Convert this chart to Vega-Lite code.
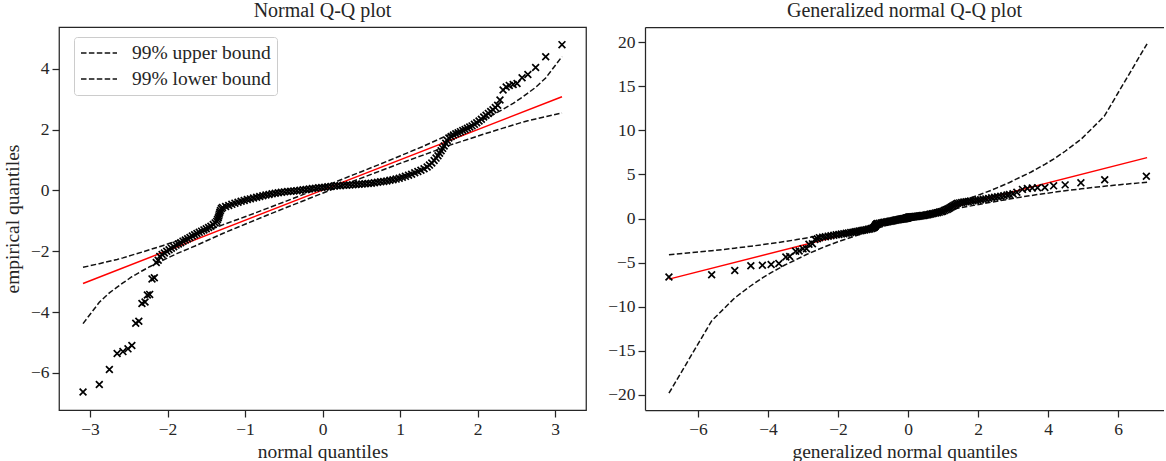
{
  "$schema": "https://vega.github.io/schema/vega-lite/v6.json",
  "padding": {"left": 1, "top": 0, "right": 0, "bottom": 0},
  "autosize": {"type": "pad"},
  "spacing": 20,
  "config": {
    "font": "Liberation Serif",
    "view": {"stroke": "#262626", "strokeWidth": 1.25},
    "axis": {
      "grid": false, "domain": false, "domainColor": "#262626", "domainWidth": 1.25, "tickColor": "#262626", "tickWidth": 1.25, "tickSize": 7,
      "labelFont": "Liberation Serif", "labelFontSize": 17.5, "labelColor": "#262626", "labelPadding": 3,
      "labelFlush": false, "labelOverlap": false, "format": "~g",
      "titleFont": "Liberation Serif", "titleFontSize": 19.5, "titleFontWeight": "normal", "titleColor": "#262626"
    },
    "axisX": {"titlePadding": 5},
    "axisY": {"titlePadding": 8},
    "title": {"font": "Liberation Serif", "fontSize": 20, "fontWeight": "normal", "color": "#262626", "offset": 6, "anchor": "middle"},
    "legend": {
      "symbolType": "M-1,0L3,0", "symbolStrokeWidth": 1.5, "symbolDash": [5.5, 2.4], "symbolSize": 324,
      "labelFont": "Liberation Serif", "labelFontSize": 19.5, "labelColor": "#262626", "labelOffset": 32,
      "fillColor": "white", "strokeColor": "#cccccc", "cornerRadius": 3, "padding": 6, "rowPadding": 6
    }
  },
  "datasets": {
    "pts": [
      {"xn": -3.09, "xg": -6.83, "y": -6.63}, {"xn": -2.88, "xg": -5.61, "y": -6.38}, {"xn": -2.75, "xg": -4.95, "y": -5.89},
      {"xn": -2.65, "xg": -4.49, "y": -5.36}, {"xn": -2.575, "xg": -4.16, "y": -5.30}, {"xn": -2.51, "xg": -3.91, "y": -5.21},
      {"xn": -2.46, "xg": -3.69, "y": -5.10}, {"xn": -2.41, "xg": -3.49, "y": -4.37}, {"xn": -2.37, "xg": -3.38, "y": -4.30},
      {"xn": -2.33, "xg": -3.21, "y": -3.72}, {"xn": -2.29, "xg": -3.11, "y": -3.67}, {"xn": -2.26, "xg": -3.00, "y": -3.44},
      {"xn": -2.23, "xg": -2.90, "y": -3.42}, {"xn": -2.20, "xg": -2.83, "y": -2.91}, {"xn": -2.17, "xg": -2.73, "y": -2.87},
      {"xn": -2.145, "xg": -2.66, "y": -2.37}, {"xn": -2.12, "xg": -2.59, "y": -2.30},
      {"xn": -2.10, "xg": -2.53, "y": -2.17}, {"xn": -2.07, "xg": -2.44, "y": -2.11}, {"xn": -2.04, "xg": -2.36, "y": -2.06},
      {"xn": -2.01, "xg": -2.28, "y": -2.00}, {"xn": -1.98, "xg": -2.20, "y": -1.95}, {"xn": -1.95, "xg": -2.12, "y": -1.90},
      {"xn": -1.92, "xg": -2.05, "y": -1.85}, {"xn": -1.89, "xg": -1.975, "y": -1.80}, {"xn": -1.86, "xg": -1.905, "y": -1.76},
      {"xn": -1.83, "xg": -1.835, "y": -1.72}, {"xn": -1.80, "xg": -1.764, "y": -1.67}, {"xn": -1.77, "xg": -1.70, "y": -1.63},
      {"xn": -1.74, "xg": -1.637, "y": -1.59}, {"xn": -1.71, "xg": -1.574, "y": -1.55}, {"xn": -1.68, "xg": -1.514, "y": -1.50},
      {"xn": -1.65, "xg": -1.457, "y": -1.46}, {"xn": -1.62, "xg": -1.399, "y": -1.42}, {"xn": -1.59, "xg": -1.342, "y": -1.38},
      {"xn": -1.56, "xg": -1.289, "y": -1.34}, {"xn": -1.53, "xg": -1.235, "y": -1.30}, {"xn": -1.50, "xg": -1.182, "y": -1.26},
      {"xn": -1.47, "xg": -1.134, "y": -1.22}, {"xn": -1.44, "xg": -1.087, "y": -1.18}, {"xn": -1.41, "xg": -1.039, "y": -1.12},
      {"xn": -1.385, "xg": -1.001, "y": -1.07}, {"xn": -1.365, "xg": -0.973, "y": -1.02}, {"xn": -1.355, "xg": -0.958, "y": -0.96},
      {"xn": -1.345, "xg": -0.944, "y": -0.90}, {"xn": -1.338, "xg": -0.934, "y": -0.84}, {"xn": -1.332, "xg": -0.926, "y": -0.78},
      {"xn": -1.325, "xg": -0.916, "y": -0.72}, {"xn": -1.317, "xg": -0.904, "y": -0.66}, {"xn": -1.305, "xg": -0.886, "y": -0.60},
      {"xn": -1.29, "xg": -0.866, "y": -0.56}, {"xn": -1.25, "xg": -0.815, "y": -0.53}, {"xn": -1.21, "xg": -0.763, "y": -0.50},
      {"xn": -1.17, "xg": -0.716, "y": -0.46}, {"xn": -1.13, "xg": -0.67, "y": -0.42}, {"xn": -1.09, "xg": -0.625, "y": -0.39},
      {"xn": -1.05, "xg": -0.583, "y": -0.36}, {"xn": -1.01, "xg": -0.541, "y": -0.33}, {"xn": -0.97, "xg": -0.504, "y": -0.30},
      {"xn": -0.93, "xg": -0.467, "y": -0.28}, {"xn": -0.89, "xg": -0.432, "y": -0.25}, {"xn": -0.85, "xg": -0.399, "y": -0.225},
      {"xn": -0.81, "xg": -0.365, "y": -0.20}, {"xn": -0.77, "xg": -0.336, "y": -0.175}, {"xn": -0.73, "xg": -0.307, "y": -0.155},
      {"xn": -0.69, "xg": -0.28, "y": -0.135}, {"xn": -0.65, "xg": -0.255, "y": -0.115}, {"xn": -0.61, "xg": -0.229, "y": -0.095},
      {"xn": -0.57, "xg": -0.207, "y": -0.08}, {"xn": -0.53, "xg": -0.185, "y": -0.065}, {"xn": -0.49, "xg": -0.163, "y": -0.05},
      {"xn": -0.45, "xg": -0.145, "y": -0.04}, {"xn": -0.41, "xg": -0.126, "y": -0.03}, {"xn": -0.37, "xg": -0.109, "y": -0.02},
      {"xn": -0.33, "xg": -0.093, "y": -0.01}, {"xn": -0.29, "xg": -0.078, "y": 0.005}, {"xn": -0.25, "xg": -0.064, "y": 0.02},
      {"xn": -0.21, "xg": -0.05, "y": 0.03}, {"xn": -0.17, "xg": -0.039, "y": 0.045}, {"xn": -0.13, "xg": -0.029, "y": 0.06},
      {"xn": -0.09, "xg": -0.019, "y": 0.07}, {"xn": -0.05, "xg": -0.011, "y": 0.085}, {"xn": -0.01, "xg": -0.002, "y": 0.095},
      {"xn": 0.03, "xg": 0.006, "y": 0.105}, {"xn": 0.07, "xg": 0.015, "y": 0.12}, {"xn": 0.11, "xg": 0.024, "y": 0.13},
      {"xn": 0.15, "xg": 0.034, "y": 0.14}, {"xn": 0.19, "xg": 0.044, "y": 0.15}, {"xn": 0.23, "xg": 0.057, "y": 0.155},
      {"xn": 0.27, "xg": 0.071, "y": 0.165}, {"xn": 0.31, "xg": 0.085, "y": 0.17}, {"xn": 0.35, "xg": 0.101, "y": 0.18},
      {"xn": 0.39, "xg": 0.117, "y": 0.185}, {"xn": 0.43, "xg": 0.135, "y": 0.19}, {"xn": 0.47, "xg": 0.154, "y": 0.20},
      {"xn": 0.51, "xg": 0.174, "y": 0.21}, {"xn": 0.55, "xg": 0.196, "y": 0.215}, {"xn": 0.59, "xg": 0.218, "y": 0.225},
      {"xn": 0.63, "xg": 0.242, "y": 0.235}, {"xn": 0.67, "xg": 0.267, "y": 0.25}, {"xn": 0.71, "xg": 0.293, "y": 0.265},
      {"xn": 0.75, "xg": 0.322, "y": 0.28}, {"xn": 0.79, "xg": 0.35, "y": 0.295}, {"xn": 0.83, "xg": 0.382, "y": 0.31},
      {"xn": 0.87, "xg": 0.415, "y": 0.33}, {"xn": 0.91, "xg": 0.449, "y": 0.35}, {"xn": 0.95, "xg": 0.486, "y": 0.37},
      {"xn": 0.99, "xg": 0.522, "y": 0.40}, {"xn": 1.03, "xg": 0.562, "y": 0.43}, {"xn": 1.07, "xg": 0.604, "y": 0.46},
      {"xn": 1.11, "xg": 0.647, "y": 0.50}, {"xn": 1.15, "xg": 0.693, "y": 0.53}, {"xn": 1.19, "xg": 0.739, "y": 0.58},
      {"xn": 1.23, "xg": 0.789, "y": 0.62}, {"xn": 1.27, "xg": 0.84, "y": 0.66}, {"xn": 1.31, "xg": 0.893, "y": 0.71},
      {"xn": 1.35, "xg": 0.951, "y": 0.77}, {"xn": 1.38, "xg": 0.994, "y": 0.83}, {"xn": 1.41, "xg": 1.039, "y": 0.90},
      {"xn": 1.44, "xg": 1.087, "y": 0.98}, {"xn": 1.465, "xg": 1.126, "y": 1.06}, {"xn": 1.49, "xg": 1.166, "y": 1.14},
      {"xn": 1.51, "xg": 1.20, "y": 1.22}, {"xn": 1.53, "xg": 1.235, "y": 1.30}, {"xn": 1.55, "xg": 1.271, "y": 1.38},
      {"xn": 1.57, "xg": 1.307, "y": 1.46}, {"xn": 1.59, "xg": 1.342, "y": 1.55}, {"xn": 1.61, "xg": 1.379, "y": 1.64},
      {"xn": 1.63, "xg": 1.418, "y": 1.72}, {"xn": 1.66, "xg": 1.476, "y": 1.77}, {"xn": 1.69, "xg": 1.534, "y": 1.82},
      {"xn": 1.72, "xg": 1.595, "y": 1.86}, {"xn": 1.75, "xg": 1.658, "y": 1.89}, {"xn": 1.78, "xg": 1.722, "y": 1.93},
      {"xn": 1.81, "xg": 1.788, "y": 1.97}, {"xn": 1.84, "xg": 1.858, "y": 2.00}, {"xn": 1.87, "xg": 1.928, "y": 2.04},
      {"xn": 1.90, "xg": 1.999, "y": 2.08}, {"xn": 1.93, "xg": 2.074, "y": 2.12}, {"xn": 1.96, "xg": 2.15, "y": 2.17},
      {"xn": 1.99, "xg": 2.225, "y": 2.22}, {"xn": 2.02, "xg": 2.306, "y": 2.28}, {"xn": 2.05, "xg": 2.39, "y": 2.34},
      {"xn": 2.08, "xg": 2.474, "y": 2.41}, {"xn": 2.11, "xg": 2.56, "y": 2.47}, {"xn": 2.14, "xg": 2.65, "y": 2.53},
      {"xn": 2.17, "xg": 2.74, "y": 2.59}, {"xn": 2.20, "xg": 2.83, "y": 2.65}, {"xn": 2.23, "xg": 2.90, "y": 2.72},
      {"xn": 2.26, "xg": 3.00, "y": 2.80},
      {"xn": 2.29, "xg": 3.11, "y": 2.97}, {"xn": 2.33, "xg": 3.27, "y": 3.30}, {"xn": 2.37, "xg": 3.41, "y": 3.40},
      {"xn": 2.41, "xg": 3.55, "y": 3.45}, {"xn": 2.46, "xg": 3.70, "y": 3.48}, {"xn": 2.51, "xg": 3.91, "y": 3.51},
      {"xn": 2.575, "xg": 4.16, "y": 3.70}, {"xn": 2.65, "xg": 4.49, "y": 3.81}, {"xn": 2.75, "xg": 4.94, "y": 4.04},
      {"xn": 2.88, "xg": 5.62, "y": 4.39}, {"xn": 3.09, "xg": 6.81, "y": 4.79}
    ],
    "bn": [
      {"x": -3.09, "y": -2.53, "bound": "99% upper bound"}, {"x": -2.88, "y": -2.41, "bound": "99% upper bound"},
      {"x": -2.75, "y": -2.33, "bound": "99% upper bound"}, {"x": -2.65, "y": -2.27, "bound": "99% upper bound"},
      {"x": -2.575, "y": -2.22, "bound": "99% upper bound"}, {"x": -2.51, "y": -2.17, "bound": "99% upper bound"},
      {"x": -2.46, "y": -2.13, "bound": "99% upper bound"}, {"x": -2.41, "y": -2.09, "bound": "99% upper bound"},
      {"x": -2.33, "y": -2.03, "bound": "99% upper bound"}, {"x": -2.23, "y": -1.95, "bound": "99% upper bound"},
      {"x": -2.054, "y": -1.81, "bound": "99% upper bound"}, {"x": -1.88, "y": -1.665, "bound": "99% upper bound"},
      {"x": -1.645, "y": -1.47, "bound": "99% upper bound"}, {"x": -1.28, "y": -1.125, "bound": "99% upper bound"},
      {"x": -1.0, "y": -0.87, "bound": "99% upper bound"}, {"x": -0.74, "y": -0.618, "bound": "99% upper bound"},
      {"x": -0.5, "y": -0.385, "bound": "99% upper bound"}, {"x": 0, "y": 0.109, "bound": "99% upper bound"},
      {"x": 0.5, "y": 0.614, "bound": "99% upper bound"}, {"x": 0.74, "y": 0.859, "bound": "99% upper bound"},
      {"x": 1.0, "y": 1.131, "bound": "99% upper bound"}, {"x": 1.28, "y": 1.426, "bound": "99% upper bound"},
      {"x": 1.645, "y": 1.846, "bound": "99% upper bound"}, {"x": 1.88, "y": 2.096, "bound": "99% upper bound"},
      {"x": 2.054, "y": 2.306, "bound": "99% upper bound"}, {"x": 2.23, "y": 2.526, "bound": "99% upper bound"},
      {"x": 2.33, "y": 2.666, "bound": "99% upper bound"}, {"x": 2.41, "y": 2.786, "bound": "99% upper bound"},
      {"x": 2.46, "y": 2.856, "bound": "99% upper bound"}, {"x": 2.51, "y": 2.946, "bound": "99% upper bound"},
      {"x": 2.575, "y": 3.056, "bound": "99% upper bound"}, {"x": 2.65, "y": 3.196, "bound": "99% upper bound"},
      {"x": 2.75, "y": 3.386, "bound": "99% upper bound"}, {"x": 2.88, "y": 3.696, "bound": "99% upper bound"},
      {"x": 3.09, "y": 4.396, "bound": "99% upper bound"},
      {"x": -3.09, "y": -4.38, "bound": "99% lower bound"}, {"x": -2.88, "y": -3.68, "bound": "99% lower bound"},
      {"x": -2.75, "y": -3.37, "bound": "99% lower bound"}, {"x": -2.65, "y": -3.18, "bound": "99% lower bound"},
      {"x": -2.575, "y": -3.04, "bound": "99% lower bound"}, {"x": -2.51, "y": -2.93, "bound": "99% lower bound"},
      {"x": -2.46, "y": -2.84, "bound": "99% lower bound"}, {"x": -2.41, "y": -2.77, "bound": "99% lower bound"},
      {"x": -2.33, "y": -2.65, "bound": "99% lower bound"}, {"x": -2.23, "y": -2.51, "bound": "99% lower bound"},
      {"x": -2.054, "y": -2.29, "bound": "99% lower bound"}, {"x": -1.88, "y": -2.08, "bound": "99% lower bound"},
      {"x": -1.645, "y": -1.83, "bound": "99% lower bound"}, {"x": -1.28, "y": -1.41, "bound": "99% lower bound"},
      {"x": -1.0, "y": -1.115, "bound": "99% lower bound"}, {"x": -0.74, "y": -0.843, "bound": "99% lower bound"},
      {"x": -0.5, "y": -0.598, "bound": "99% lower bound"}, {"x": 0, "y": -0.093, "bound": "99% lower bound"},
      {"x": 0.5, "y": 0.401, "bound": "99% lower bound"}, {"x": 0.74, "y": 0.634, "bound": "99% lower bound"},
      {"x": 1.0, "y": 0.886, "bound": "99% lower bound"}, {"x": 1.28, "y": 1.141, "bound": "99% lower bound"},
      {"x": 1.645, "y": 1.486, "bound": "99% lower bound"}, {"x": 1.88, "y": 1.681, "bound": "99% lower bound"},
      {"x": 2.054, "y": 1.826, "bound": "99% lower bound"}, {"x": 2.23, "y": 1.966, "bound": "99% lower bound"},
      {"x": 2.33, "y": 2.046, "bound": "99% lower bound"}, {"x": 2.41, "y": 2.106, "bound": "99% lower bound"},
      {"x": 2.46, "y": 2.146, "bound": "99% lower bound"}, {"x": 2.51, "y": 2.186, "bound": "99% lower bound"},
      {"x": 2.575, "y": 2.236, "bound": "99% lower bound"}, {"x": 2.65, "y": 2.286, "bound": "99% lower bound"},
      {"x": 2.75, "y": 2.346, "bound": "99% lower bound"}, {"x": 2.88, "y": 2.426, "bound": "99% lower bound"},
      {"x": 3.09, "y": 2.546, "bound": "99% lower bound"}
    ],
    "bg": [
      {"x": -6.83, "y": -4.12, "bound": "upper"}, {"x": -5.61, "y": -3.66, "bound": "upper"}, {"x": -4.95, "y": -3.36, "bound": "upper"},
      {"x": -4.49, "y": -3.14, "bound": "upper"}, {"x": -4.16, "y": -2.97, "bound": "upper"}, {"x": -3.91, "y": -2.83, "bound": "upper"},
      {"x": -3.69, "y": -2.71, "bound": "upper"}, {"x": -3.52, "y": -2.60, "bound": "upper"}, {"x": -3.21, "y": -2.42, "bound": "upper"},
      {"x": -2.90, "y": -2.20, "bound": "upper"}, {"x": -2.40, "y": -1.86, "bound": "upper"}, {"x": -1.95, "y": -1.54, "bound": "upper"},
      {"x": -1.45, "y": -1.18, "bound": "upper"}, {"x": -0.85, "y": -0.685, "bound": "upper"}, {"x": -0.531, "y": -0.43, "bound": "upper"},
      {"x": -0.31, "y": -0.243, "bound": "upper"}, {"x": -0.168, "y": -0.12, "bound": "upper"}, {"x": 0, "y": 0.021, "bound": "upper"},
      {"x": 0.168, "y": 0.231, "bound": "upper"}, {"x": 0.31, "y": 0.406, "bound": "upper"}, {"x": 0.531, "y": 0.677, "bound": "upper"},
      {"x": 0.85, "y": 1.07, "bound": "upper"}, {"x": 1.45, "y": 1.90, "bound": "upper"}, {"x": 1.95, "y": 2.56, "bound": "upper"},
      {"x": 2.40, "y": 3.23, "bound": "upper"}, {"x": 2.90, "y": 4.08, "bound": "upper"}, {"x": 3.21, "y": 4.69, "bound": "upper"},
      {"x": 3.52, "y": 5.27, "bound": "upper"}, {"x": 3.69, "y": 5.66, "bound": "upper"}, {"x": 3.91, "y": 6.13, "bound": "upper"},
      {"x": 4.16, "y": 6.74, "bound": "upper"}, {"x": 4.49, "y": 7.62, "bound": "upper"}, {"x": 4.95, "y": 9.0, "bound": "upper"},
      {"x": 5.61, "y": 11.6, "bound": "upper"}, {"x": 6.83, "y": 19.8, "bound": "upper"},
      {"x": -6.83, "y": -19.8, "bound": "lower"}, {"x": -5.61, "y": -11.6, "bound": "lower"}, {"x": -4.95, "y": -9.0, "bound": "lower"},
      {"x": -4.49, "y": -7.62, "bound": "lower"}, {"x": -4.16, "y": -6.74, "bound": "lower"}, {"x": -3.91, "y": -6.13, "bound": "lower"},
      {"x": -3.69, "y": -5.66, "bound": "lower"}, {"x": -3.52, "y": -5.27, "bound": "lower"}, {"x": -3.21, "y": -4.69, "bound": "lower"},
      {"x": -2.90, "y": -4.08, "bound": "lower"}, {"x": -2.40, "y": -3.23, "bound": "lower"}, {"x": -1.95, "y": -2.56, "bound": "lower"},
      {"x": -1.45, "y": -1.90, "bound": "lower"}, {"x": -0.85, "y": -1.07, "bound": "lower"}, {"x": -0.531, "y": -0.677, "bound": "lower"},
      {"x": -0.31, "y": -0.406, "bound": "lower"}, {"x": -0.168, "y": -0.231, "bound": "lower"}, {"x": 0, "y": -0.021, "bound": "lower"},
      {"x": 0.168, "y": 0.12, "bound": "lower"}, {"x": 0.31, "y": 0.243, "bound": "lower"}, {"x": 0.531, "y": 0.43, "bound": "lower"},
      {"x": 0.85, "y": 0.685, "bound": "lower"}, {"x": 1.45, "y": 1.18, "bound": "lower"}, {"x": 1.95, "y": 1.54, "bound": "lower"},
      {"x": 2.40, "y": 1.86, "bound": "lower"}, {"x": 2.90, "y": 2.20, "bound": "lower"}, {"x": 3.21, "y": 2.42, "bound": "lower"},
      {"x": 3.52, "y": 2.60, "bound": "lower"}, {"x": 3.69, "y": 2.71, "bound": "lower"}, {"x": 3.91, "y": 2.83, "bound": "lower"},
      {"x": 4.16, "y": 2.97, "bound": "lower"}, {"x": 4.49, "y": 3.14, "bound": "lower"}, {"x": 4.95, "y": 3.36, "bound": "lower"},
      {"x": 5.61, "y": 3.66, "bound": "lower"}, {"x": 6.83, "y": 4.12, "bound": "lower"}
    ],
    "ln": [{"x": -3.09, "y": -3.06}, {"x": 3.09, "y": 3.077}],
    "lg": [{"x": -6.83, "y": -6.87}, {"x": 6.83, "y": 6.90}]
  },
  "hconcat": [
    {
      "width": 527, "height": 383,
      "title": "Normal Q-Q plot",
      "layer": [
        {
          "data": {"name": "ln"},
          "mark": {"type": "line", "color": "#ff0000", "strokeWidth": 1.5},
          "encoding": {
            "x": {"field": "x", "type": "quantitative", "scale": {"domain": [-3.4, 3.4], "nice": false, "zero": false}, "axis": {"values": [-3, -2, -1, 0, 1, 2, 3], "title": "normal quantiles"}},
            "y": {"field": "y", "type": "quantitative", "scale": {"domain": [-7.22, 5.37], "nice": false, "zero": false}, "axis": {"values": [-6, -4, -2, 0, 2, 4], "title": "empirical quantiles"}}
          }
        },
        {
          "data": {"name": "bn"},
          "mark": {"type": "line", "strokeWidth": 1.5, "strokeDash": [5.5, 2.4]},
          "encoding": {
            "x": {"field": "x", "type": "quantitative", "title": "normal quantiles"},
            "y": {"field": "y", "type": "quantitative", "title": "empirical quantiles"},
            "color": {
              "field": "bound", "type": "nominal",
              "scale": {"domain": ["99% upper bound", "99% lower bound"], "range": ["#111111", "#111111"]},
              "legend": {"title": null, "orient": "none", "legendX": 15, "legendY": 10}
            }
          }
        },
        {
          "data": {"name": "pts"},
          "mark": {"type": "point", "shape": "M-1,-1L1,1M-1,1L1,-1", "filled": false, "color": "#000000", "strokeWidth": 1.7, "size": 46, "opacity": 1},
          "encoding": {
            "x": {"field": "xn", "type": "quantitative", "title": "normal quantiles"},
            "y": {"field": "y", "type": "quantitative", "title": "empirical quantiles"}
          }
        }
      ]
    },
    {
      "width": 519, "height": 383,
      "title": "Generalized normal Q-Q plot",
      "view": {"stroke": null},
      "resolve": {"axis": {"x": "independent"}},
      "layer": [
        {
          "data": {"name": "lg"},
          "mark": {"type": "line", "color": "#ff0000", "strokeWidth": 1.5},
          "encoding": {
            "x": {"field": "x", "type": "quantitative", "scale": {"domain": [-7.514, 7.314], "nice": false, "zero": false}, "axis": {"values": [-6, -4, -2, 0, 2, 4, 6], "title": "generalized normal quantiles", "domain": true}},
            "y": {"field": "y", "type": "quantitative", "scale": {"domain": [-21.7, 21.7], "nice": false, "zero": false}, "axis": {"values": [-20, -15, -10, -5, 0, 5, 10, 15, 20], "title": null, "domain": true}}
          }
        },
        {
          "data": {"name": "bg"},
          "mark": {"type": "line", "color": "#111111", "strokeWidth": 1.5, "strokeDash": [5.5, 2.4]},
          "encoding": {
            "x": {"field": "x", "type": "quantitative", "axis": {"orient": "top", "domain": true, "ticks": false, "labels": false, "title": null}},
            "y": {"field": "y", "type": "quantitative", "title": null},
            "detail": {"field": "bound", "type": "nominal"}
          }
        },
        {
          "data": {"name": "pts"},
          "mark": {"type": "point", "shape": "M-1,-1L1,1M-1,1L1,-1", "filled": false, "color": "#000000", "strokeWidth": 1.7, "size": 46, "opacity": 1},
          "encoding": {
            "x": {"field": "xg", "type": "quantitative", "axis": null},
            "y": {"field": "y", "type": "quantitative", "title": null}
          }
        }
      ]
    }
  ]
}
